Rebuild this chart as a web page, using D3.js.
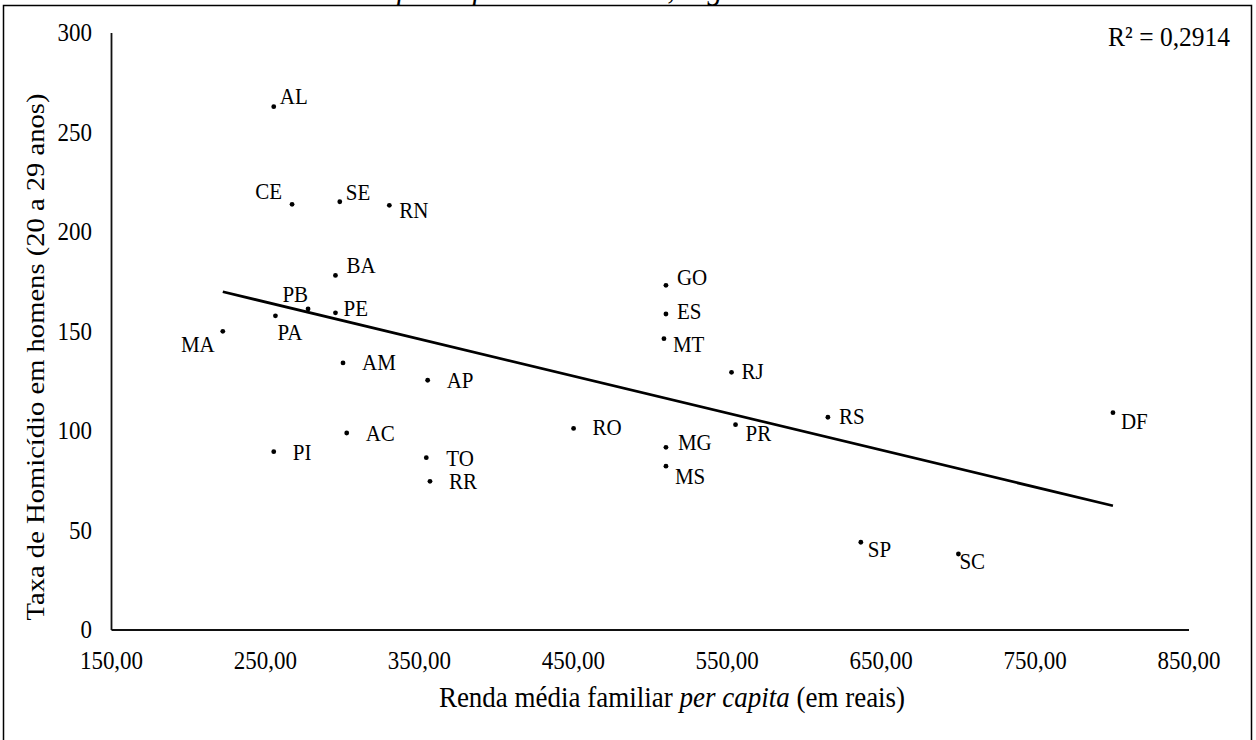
<!DOCTYPE html>
<html>
<head>
<meta charset="utf-8">
<script src="https://cdn.jsdelivr.net/npm/d3@7"></script>
<style>
  html, body { margin: 0; padding: 0; background: #fff; }
  svg { display: block; }
</style>
</head>
<body>
<svg id="chart" width="1256" height="740" font-family="'Liberation Serif', Tinos, 'Times New Roman', Times, serif"></svg>
<script>
// ---- data ----
const states = ["AL","CE","SE","RN","BA","PB","PE","PA","MA","AM","AP","AC","PI","TO","RR",
                "GO","ES","MT","RJ","RO","PR","MG","MS","RS","DF","SP","SC"];
const renda  = [255.4,267.3,298.3,330.5,295.5,277.7,295.5,256.5,222.3,300.4,355.4,302.8,255.4,354.5,356.9,
                510.2,510.2,508.9,552.8,450.2,555.4,510.2,510.2,615.4,800.6,636.8,700.2];
const taxa   = [263.0,213.9,215.2,213.4,178.2,161.3,159.4,157.9,150.1,134.2,125.5,99.0,89.6,86.6,74.7,
                173.2,158.8,146.4,129.5,101.3,103.2,91.8,82.3,106.9,109.2,44.1,38.2];
const xTicks = [150,250,350,450,550,650,750,850];
const yTicks = [0,50,100,150,200,250,300];
const r2Label = "R² = 0,2914";
const xTitle = ["Renda média familiar ", "per capita", " (em reais)"];
const yTitle = "Taxa de Homicídio em homens (20 a 29 anos)";

// ---- label placement (layout) ----
const labelPos = {
  AL:[6,-3,"start"], CE:[-10,-5,"end"], SE:[6,-2,"start"], RN:[10,13,"start"], BA:[11,-2,"start"],
  PB:[0,-7,"end"], PE:[8,3,"start"], PA:[2,24,"start"], MA:[-8,21,"end"], AM:[19,7,"start"],
  AP:[19,8,"start"], AC:[19,8,"start"], PI:[19,8,"start"], TO:[20,8,"start"], RR:[19,8,"start"],
  GO:[11,0,"start"], ES:[11,5,"start"], MT:[9,13,"start"], RJ:[10,7,"start"], RO:[19,7,"start"],
  PR:[10,16,"start"], MG:[12,3,"start"], MS:[9,18,"start"], RS:[11,7,"start"], DF:[8,16,"start"],
  SP:[7,15,"start"], SC:[1,15,"start"]
};

const FONT = "'Liberation Serif', Tinos, 'Times New Roman', Times, serif";
const SY = 1.1; // vertical glyph stretch seen in the reference
const svg = d3.select("#chart");
const x = d3.scaleLinear().domain([150, 850]).range([111.5, 1189]);
const y = d3.scaleLinear().domain([0, 300]).range([630, 33]);
const place = (sel, fx, fy) => sel.attr("transform", (d, i) => `translate(${fx(d, i)},${fy(d, i)}) scale(1,${SY})`);

// cut-off title at top
svg.append("text")
  .attr("transform", `translate(397,-1) scale(1,${SY})`).attr("font-family", FONT)
  .attr("font-size", 30).attr("font-style", "italic")
  .text("per capita e homicídio, segundo UF");

// outer frame
svg.append("rect")
  .attr("x", 3.5).attr("y", 5.5).attr("width", 1248).attr("height", 760)
  .attr("fill", "none").attr("stroke", "#000").attr("stroke-width", 1.5);

// axes lines
svg.append("line").attr("x1", x(150)).attr("x2", x(150)).attr("y1", y(300)).attr("y2", y(0))
  .attr("stroke", "#111").attr("stroke-width", 1.8);
svg.append("line").attr("x1", x(150)).attr("x2", x(850)).attr("y1", y(0)).attr("y2", y(0))
  .attr("stroke", "#111").attr("stroke-width", 1.8);

// tick labels
const fmt = v => d3.format(".2f")(v).replace(".", ",");
svg.selectAll(".xt").data(xTicks).enter().append("text")
  .attr("font-family", FONT)
  .call(place, d => x(d), () => 669)
  .attr("text-anchor", "middle").attr("font-size", 23)
  .text(d => fmt(d));
svg.selectAll(".yt").data(yTicks).enter().append("text")
  .attr("font-family", FONT)
  .call(place, () => 92, d => y(d) + 8)
  .attr("text-anchor", "end").attr("font-size", 23)
  .text(d => d);

// axis titles
const xt = svg.append("text").attr("font-family", FONT)
  .attr("transform", `translate(672,707) scale(1,${SY})`)
  .attr("text-anchor", "middle").attr("font-size", 27);
xt.append("tspan").text(xTitle[0]);
xt.append("tspan").attr("font-style", "italic").text(xTitle[1]);
xt.append("tspan").text(xTitle[2]);

svg.append("text").attr("font-family", FONT)
  .attr("transform", `translate(44,357) scale(1,${SY}) rotate(-90)`)
  .attr("text-anchor", "middle").attr("font-size", 26)
  .text(yTitle);

// R² label
svg.append("text").attr("font-family", FONT)
  .attr("transform", `translate(1230,46) scale(1,${SY})`)
  .attr("text-anchor", "end").attr("font-size", 25.5).text(r2Label);

// regression line
const pts = states.map((s, i) => ({ s, x: renda[i], y: taxa[i] }));
const mx = d3.mean(pts, d => d.x), my = d3.mean(pts, d => d.y);
const sxy = d3.sum(pts, d => (d.x - mx) * (d.y - my));
const sxx = d3.sum(pts, d => (d.x - mx) ** 2);
const slope = sxy / sxx, icpt = my - slope * mx;
const [xmin, xmax] = d3.extent(renda);
svg.append("line")
  .attr("x1", x(xmin)).attr("y1", y(icpt + slope * xmin))
  .attr("x2", x(xmax)).attr("y2", y(icpt + slope * xmax))
  .attr("stroke", "#000").attr("stroke-width", 2.75);

// points
svg.selectAll(".pt").data(pts).enter().append("circle")
  .attr("cx", d => x(d.x)).attr("cy", d => y(d.y)).attr("r", 2.4).attr("fill", "#000");

// labels
svg.selectAll(".lb").data(pts).enter().append("text")
  .attr("font-family", FONT)
  .call(place, d => x(d.x) + labelPos[d.s][0], d => y(d.y) + labelPos[d.s][1])
  .attr("text-anchor", d => labelPos[d.s][2])
  .attr("font-size", 21)
  .text(d => d.s);
</script>
</body>
</html>
